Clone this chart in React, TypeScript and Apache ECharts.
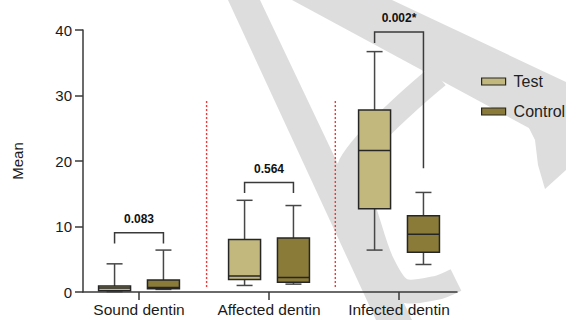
import React, { useEffect, useRef } from "react";
import * as echarts from "echarts";

const categories = ["Sound dentin", "Affected dentin", "Infected dentin"];
const seriesNames = ["Test", "Control"];
// [min, Q1, median, Q3, max] per category
const testStats = [
  [0.05, 0.2, 0.6, 0.92, 4.3],
  [1.0, 1.9, 2.45, 8.0, 14.0],
  [6.4, 12.7, 21.6, 27.8, 36.7],
];
const controlStats = [
  [0.4, 0.5, 0.7, 1.83, 6.4],
  [1.2, 1.5, 2.2, 8.25, 13.2],
  [4.2, 6.05, 8.8, 11.65, 15.2],
];
// significance brackets: [left leg end, bar level, right leg end]
const brackets = [
  [7.4, 9.05, 7.4],
  [15.1, 16.7, 15.1],
  [38.0, 39.7, 18.9],
];
const pLabels = ["0.083", "0.564", "0.002*"];
// dotted separators between groups: x position, and the y range they span
const separators = [0.52, 1.51];
const separatorRange = [0.75, 29.3];
const yMin = 0;
const yMax = 40;
const yStep = 10;

const FONT = "Liberation Sans, Arial, sans-serif";
const TEST_FILL = "#c2b87e";
const CONTROL_FILL = "#8b7b39";
const GROUP_OFFSET = 0.188;
const BOX_WIDTH = 0.246;

function boxRenderer(offset: number, fill: string) {
  return (params: any, api: any) => {
    const x = api.value(0) + offset;
    const [mn, q1, md, q3, mx] = [1, 2, 3, 4, 5].map((i) => api.value(i));
    const pMin = api.coord([x, mn]);
    const pQ1 = api.coord([x, q1]);
    const pMd = api.coord([x, md]);
    const pQ3 = api.coord([x, q3]);
    const pMax = api.coord([x, mx]);
    const w = api.size([BOX_WIDTH, 0])[0];
    const cx = pMin[0];
    const cap = w / 4;
    const whisker = { stroke: "#474747", lineWidth: 1.5 };
    return {
      type: "group",
      children: [
        { type: "line", shape: { x1: cx, y1: pMax[1], x2: cx, y2: pQ3[1] }, style: whisker },
        { type: "line", shape: { x1: cx - cap, y1: pMax[1], x2: cx + cap, y2: pMax[1] }, style: whisker },
        { type: "line", shape: { x1: cx, y1: pMin[1], x2: cx, y2: pQ1[1] }, style: whisker },
        { type: "line", shape: { x1: cx - cap, y1: pMin[1], x2: cx + cap, y2: pMin[1] }, style: whisker },
        {
          type: "rect",
          shape: { x: cx - w / 2, y: pQ3[1], width: w, height: pQ1[1] - pQ3[1] },
          style: { fill, stroke: "#262626", lineWidth: 1.5 },
        },
        {
          type: "line",
          shape: { x1: cx - w / 2, y1: pMd[1], x2: cx + w / 2, y2: pMd[1] },
          style: { stroke: "#262626", lineWidth: 1.5 },
        },
      ],
    };
  };
}

function bracketRenderer(params: any, api: any) {
  const i = api.value(0);
  const left = api.coord([i - GROUP_OFFSET, api.value(1)]);
  const topL = api.coord([i - GROUP_OFFSET, api.value(2)]);
  const topR = api.coord([i + GROUP_OFFSET, api.value(2)]);
  const right = api.coord([i + GROUP_OFFSET, api.value(3)]);
  return {
    type: "group",
    children: [
      {
        type: "polyline",
        shape: { points: [left, topL, topR, right] },
        style: { stroke: "#3a3a3a", lineWidth: 1.5, fill: "none" },
      },
      {
        type: "text",
        x: (topL[0] + topR[0]) / 2,
        y: topL[1] - 13.5,
        style: {
          text: pLabels[params.dataIndex],
          font: `bold 12px ${FONT}`,
          fill: "#111",
          align: "center",
          verticalAlign: "middle",
        },
      },
    ],
  };
}

function separatorRenderer(params: any, api: any) {
  const a = api.coord([api.value(0), api.value(1)]);
  const b = api.coord([api.value(0), api.value(2)]);
  return {
    type: "line",
    shape: { x1: a[0], y1: a[1], x2: b[0], y2: b[1] },
    style: { stroke: "#f03a3a", lineWidth: 1.4, lineDash: [2, 2] },
  };
}

const WM = "#dddddd";
const watermark = [
  { type: "polygon", z: -10, shape: { points: [[228, 0], [260, 0], [412, 320], [376, 320]] }, style: { fill: WM } },
  { type: "polygon", z: -10, shape: { points: [[292, 0], [392, 0], [566, 82], [566, 148]] }, style: { fill: WM } },
  {
    type: "polygon",
    z: -10,
    shape: { points: [[528, 126], [566, 144], [566, 170], [545, 189], [538, 165], [535, 140]] },
    style: { fill: WM },
  },
  {
    type: "polyline",
    z: -10,
    shape: {
      points: [[438, 76], [350, 165], [366, 215], [382, 262], [402, 290], [436, 288], [456, 280]],
      smooth: 0.3,
    },
    style: { stroke: WM, lineWidth: 24, fill: "none" },
  },
];

export default function App() {
  const ref = useRef<HTMLDivElement>(null);
  useEffect(() => {
    if (!ref.current) return;
    const chart = echarts.init(ref.current, undefined, { renderer: "svg" });
    const axisColor = "#3a3a3a";
    chart.setOption({
      animation: false,
      backgroundColor: "#ffffff",
      textStyle: { fontFamily: FONT },
      graphic: { elements: watermark },
      grid: { left: 83, right: 109, top: 30, bottom: 28, containLabel: false },
      legend: {
        data: seriesNames,
        orient: "vertical",
        left: 476,
        top: 68.5,
        icon: "rect",
        itemWidth: 24,
        itemHeight: 7,
        itemGap: 14,
        itemStyle: { borderColor: "#262626", borderWidth: 1.2 },
        textStyle: { fontSize: 16, color: "#222", lineHeight: 16, padding: [0, 0, 0, 3], fontFamily: FONT },
        selectedMode: false,
      },
      xAxis: {
        type: "value",
        min: -0.4308,
        max: 2.446,
        splitLine: { show: false },
        axisLine: { onZero: false, lineStyle: { color: axisColor, width: 1.5 } },
        axisTick: { customValues: [0, 1, 2], length: 8, lineStyle: { color: axisColor, width: 1.5 } },
        axisLabel: {
          customValues: [0, 1, 2],
          formatter: (v: number) => categories[Math.round(v)],
          fontSize: 15.5,
          color: "#1a1a1a",
          margin: 9,
          fontFamily: FONT,
        },
      },
      yAxis: {
        type: "value",
        min: yMin,
        max: yMax,
        interval: yStep,
        name: "Mean",
        nameLocation: "middle",
        nameGap: 58,
        nameTextStyle: { fontSize: 15, color: "#1a1a1a", fontFamily: FONT },
        splitLine: { show: false },
        axisLine: { show: true, onZero: false, lineStyle: { color: axisColor, width: 1.5 } },
        axisTick: { show: true, length: 8, lineStyle: { color: axisColor, width: 1.5 } },
        axisLabel: { fontSize: 15, color: "#1a1a1a", margin: 11, fontFamily: FONT },
      },
      series: [
        {
          name: "Test",
          type: "custom",
          renderItem: boxRenderer(-GROUP_OFFSET, TEST_FILL),
          itemStyle: { color: TEST_FILL, borderColor: "#262626" },
          encode: { x: 0, y: [1, 2, 3, 4, 5] },
          data: testStats.map((s, i) => [i, ...s]),
          z: 3,
        },
        {
          name: "Control",
          type: "custom",
          renderItem: boxRenderer(GROUP_OFFSET, CONTROL_FILL),
          itemStyle: { color: CONTROL_FILL, borderColor: "#262626" },
          encode: { x: 0, y: [1, 2, 3, 4, 5] },
          data: controlStats.map((s, i) => [i, ...s]),
          z: 3,
        },
        {
          name: "p",
          type: "custom",
          renderItem: bracketRenderer,
          encode: { x: 0, y: [1, 2, 3] },
          data: brackets.map((b, i) => [i, ...b]),
          z: 3,
        },
        {
          name: "sep",
          type: "custom",
          renderItem: separatorRenderer,
          encode: { x: 0, y: [1, 2] },
          data: separators.map((x) => [x, separatorRange[0], separatorRange[1]]),
          z: 3,
        },
      ],
    });
    return () => chart.dispose();
  }, []);
  return (
    <div
      ref={ref}
      style={{ position: "absolute", left: 0, top: 0, width: 566, height: 320, background: "#fff" }}
    />
  );
}
